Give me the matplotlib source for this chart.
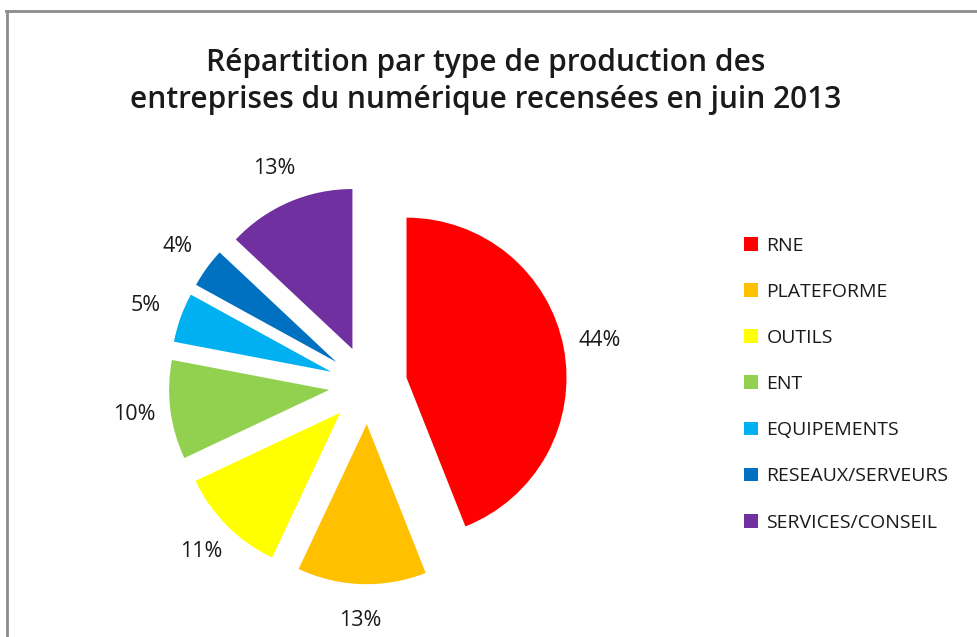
import matplotlib.pyplot as plt
from matplotlib.lines import Line2D

categories = ['RNE', 'PLATEFORME', 'OUTILS', 'ENT', 'EQUIPEMENTS',
              'RESEAUX/SERVEURS', 'SERVICES/CONSEIL']
values = [44, 13, 11, 10, 5, 4, 13]
colors = ['#FF0000', '#FFC000', '#FFFF00', '#92D050', '#00B0F0',
          '#0070C0', '#7030A0']
title = 'Répartition par type de production des\nentreprises du numérique recensées en juin 2013'

plt.rcParams['font.family'] = ['Open Sans', 'DejaVu Sans']

fig = plt.figure(figsize=(9.78, 6.37), dpi=100)

# pie axes: centre around (368, 385) px, radius 160 px
ax = fig.add_axes([128 / 978, (637 - 625) / 637, 480 / 978, 480 / 637])
wedges, texts, autotexts = ax.pie(
    values, colors=colors, startangle=90, counterclock=False,
    explode=[0.245] * len(values), radius=1.0,
    autopct='%1.0f%%', pctdistance=1.23,
    wedgeprops=dict(linewidth=0),
    textprops=dict(fontsize=15.5, color='#1a1a1a'))
ax.set_xlim(-1.5, 1.5)
ax.set_ylim(-1.5, 1.5)
ax.set_aspect('auto')
ax.axis('off')

fig.text(0.497, 0.872, title, ha='center', va='center', fontsize=21.5,
         fontweight='semibold', color='#1a1a1a', linespacing=1.3)

leg = fig.legend(wedges, categories, loc='center left',
                 bbox_to_anchor=(0.743, 0.397), frameon=False,
                 fontsize=14, handlelength=0.7, handleheight=0.7,
                 handletextpad=0.45, labelspacing=1.45)
for t in leg.get_texts():
    t.set_color('#1a1a1a')

# outer frame (only top and left edges visible)
fig.add_artist(Line2D([6 / 978, 1.0], [1 - 11 / 637, 1 - 11 / 637],
                      transform=fig.transFigure, color='#8c8c8c', lw=2))
fig.add_artist(Line2D([7 / 978, 7 / 978], [0.0, 1 - 11 / 637],
                      transform=fig.transFigure, color='#8c8c8c', lw=2))

fig.savefig('out.png', dpi=100, facecolor='white')
